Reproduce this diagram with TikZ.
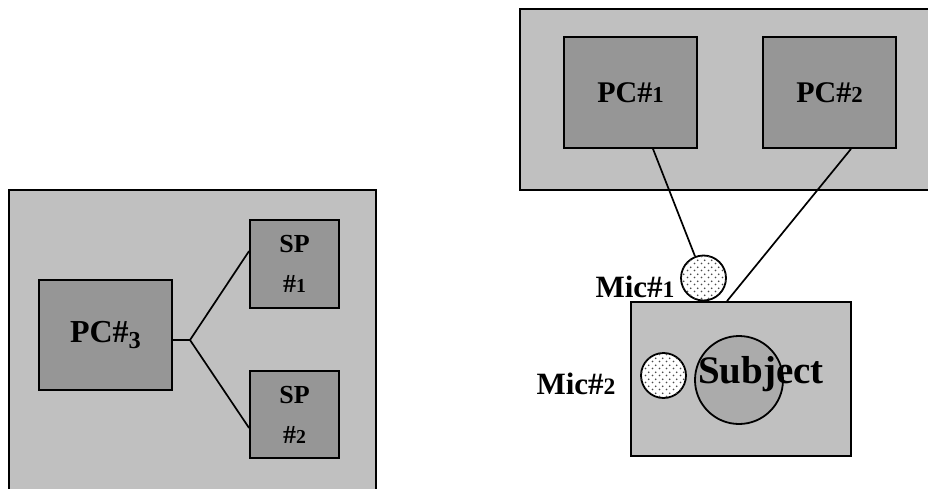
\documentclass[tikz,border=0pt]{standalone}
\usepackage{fontspec}
\setmainfont{Liberation Serif}
\usetikzlibrary{patterns.meta}
\definecolor{grayA}{HTML}{C0C0C0}
\definecolor{grayB}{HTML}{969696}
\definecolor{grayC}{HTML}{ABABAB}
% old-style-like figures: small digits, 3 descends
\newcommand\osn[1]{{\fontsize{0.76\dimexpr\csname f@size\endcsname pt\relax}{1em}\selectfont #1}}
\newcommand\osnd[1]{\raisebox{-0.2em}{\osn{#1}}}
\tikzdeclarepattern{
  name=micdots,
  type=uncolored,
  bounding box={(0pt,0pt) and (7pt,7pt)},
  tile size={(7pt,7pt)},
  code={
    \fill (1.75pt,1.75pt) circle (1pt);
    \fill (5.25pt,5.25pt) circle (1pt);
  }
}
\tikzset{
  panel/.style={draw, fill=grayA, line width=1.8pt, inner sep=0pt},
  devbox/.style={draw, fill=grayB, line width=1.8pt, inner sep=0pt, font=\bfseries\fontsize{30}{36}\selectfont},
  spbox/.style={draw, fill=grayB, line width=1.8pt, inner sep=0pt, align=center, minimum width=89pt, font=\bfseries\fontsize{26}{40}\selectfont},
  wire/.style={line width=1.7pt},
  mic/.style={circle, draw, line width=1.8pt, minimum size=45pt, inner sep=0pt, fill=white,
    postaction={pattern={micdots}, pattern color=black!70}},
  lbl/.style={inner sep=0pt, font=\bfseries\fontsize{31}{36}\selectfont}
}
\begin{document}
\begin{tikzpicture}[x=1pt,y=-1pt]
\clip (0,0) rectangle (928,489);
\fill[white] (0,0) rectangle (928,489);
% left panel
\node[panel, minimum width=367pt, minimum height=302pt] (outerL) at (192.5,341) {};
\node[devbox, minimum width=133pt, minimum height=110pt, font=\bfseries\fontsize{32}{38}\selectfont] (pc3) at (105.5,335) {PC\#\osnd{3}};
\node[spbox, minimum height=88pt] (sp1) at (294.5,264) {SP\\\#\osn{1}};
\node[spbox, minimum height=87pt] (sp2) at (294.5,414.5) {SP\\\#\osn{2}};
\coordinate (junc) at (190,340);
\draw[wire] ([yshift=-5pt]pc3.east) -- (junc);
\draw[wire] (junc) -- ([yshift=13pt]sp1.west);
\draw[wire] (junc) -- ([yshift=-13.5pt]sp2.west);
% right top panel
\node[panel, minimum width=412pt, minimum height=181pt] (outerR) at (726,99.5) {};
\node[devbox, minimum width=133pt, minimum height=111pt] (pc1) at (630.5,92.5) {PC\#\osn{1}};
\node[devbox, minimum width=133pt, minimum height=111pt] (pc2) at (829.5,92.5) {PC\#\osn{2}};
% subject area
\node[panel, minimum width=220pt, minimum height=154pt] (subjbox) at (741,379) {};
\node[circle, draw, fill=grayC, line width=1.8pt, minimum size=88pt, inner sep=0pt] (subjc) at (739,380) {};
\node[inner sep=0pt, font=\bfseries\fontsize{39}{44}\selectfont] (subjt) at (761,374) {Subject};
\node[mic] (mic1) at (703.5,278) {};
\node[mic] (mic2) at (663.5,375.5) {};
\node[lbl] (m1l) at (635,287) {Mic\#\osn{1}};
\node[lbl] (m2l) at (576,384) {Mic\#\osn{2}};
\draw[wire] ([xshift=22.5pt]pc1.south) -- (mic1);
\draw[wire] ([xshift=21.5pt]pc2.south) -- ([xshift=-14pt]subjbox.north);
\end{tikzpicture}
\end{document}
